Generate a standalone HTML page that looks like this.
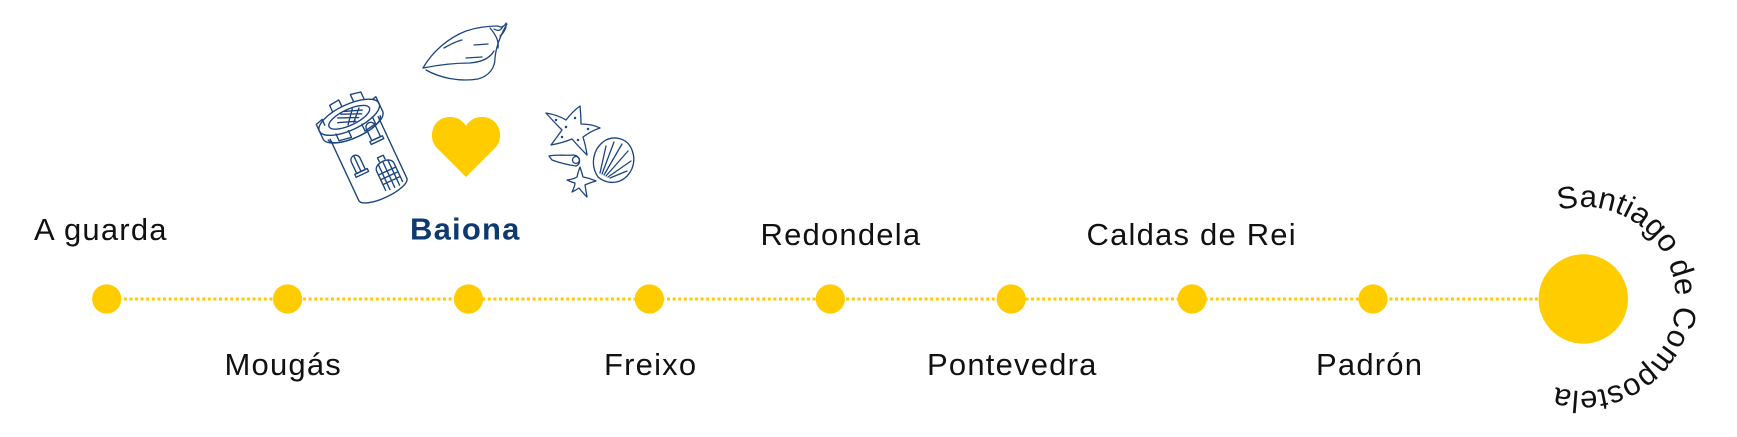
<!DOCTYPE html>
<html>
<head>
<meta charset="utf-8">
<style>
  html, body { margin: 0; padding: 0; background: #ffffff; }
  svg { display: block; }
  .lbl { font-family: "Liberation Sans", sans-serif; font-size: 31px; fill: #111111; letter-spacing: 1.2px; }
  .ill { fill: none; stroke: #1c4580; stroke-width: 1.3; stroke-linecap: round; stroke-linejoin: round; }
</style>
</head>
<body>
<svg width="1737" height="437" viewBox="0 0 1737 437" xmlns="http://www.w3.org/2000/svg">
  <rect width="1737" height="437" fill="#ffffff"/>

  <!-- dotted connector -->
  <line x1="107" y1="299" x2="1583" y2="299" stroke="#FFCC00" stroke-width="3" stroke-dasharray="3 2.6"/>

  <!-- stops -->
  <g fill="#FFCC00">
    <circle cx="106.7" cy="299" r="14.6"/>
    <circle cx="287.6" cy="299" r="14.6"/>
    <circle cx="468.5" cy="299" r="14.6"/>
    <circle cx="649.4" cy="299" r="14.6"/>
    <circle cx="830.3" cy="299" r="14.6"/>
    <circle cx="1011.2" cy="299" r="14.6"/>
    <circle cx="1192.1" cy="299" r="14.6"/>
    <circle cx="1373" cy="299" r="14.6"/>
    <circle cx="1583.3" cy="299" r="44.7"/>
  </g>

  <!-- top labels -->
  <text class="lbl" x="34" y="240">A guarda</text>
  <text x="410" y="239.5" font-family="Liberation Sans, sans-serif" font-size="31" font-weight="bold" fill="#0d3a70" letter-spacing="1.2">Baiona</text>
  <text class="lbl" x="760.5" y="245">Redondela</text>
  <text class="lbl" x="1086.5" y="245">Caldas de Rei</text>

  <!-- bottom labels -->
  <text class="lbl" x="224.5" y="375">Mougás</text>
  <text class="lbl" x="604" y="375">Freixo</text>
  <text class="lbl" x="927" y="375">Pontevedra</text>
  <text class="lbl" x="1316" y="375">Padrón</text>

  <!-- curved destination label -->
  <defs>
    <path id="arc" d="M 1558.9 210.35 A 92 92 0 1 1 1608.1 387.65 A 92 92 0 1 1 1558.9 210.35"/>
  </defs>
  <text font-family="Liberation Sans, sans-serif" font-size="31" fill="#111111">
    <textPath href="#arc" textLength="342" lengthAdjust="spacing">Santiago de Compostela</textPath>
  </text>

  <!-- heart -->
  <path d="M 466 177 L 437 148 C 427 138, 432 117, 450 117 C 458 117, 463 121, 466 126 C 469 121, 474 117, 482 117 C 500 117, 505 138, 495 148 Z" fill="#FFCC00"/>

  <!-- conch shell -->
  <g class="ill" stroke-width="1.6">
    <path d="M 423 68 C 432 52, 448 38, 466 31 C 478 27, 490 26, 498 26"/>
    <path d="M 423 68 C 438 65, 455 63, 470 63 C 482 62, 490 58, 494 51"/>
    <path d="M 426 70 C 440 78, 460 82, 478 79 C 489 76, 495 68, 495 58 C 496 47, 500 36, 507 24"/>
    <path d="M 444 48 C 451 44, 457 41, 462 40"/>
    <path d="M 466 58 L 482 57"/>
    <path d="M 474 45 L 488 44"/>
    <path d="M 490 28 C 496 35, 499 41, 498 48"/>
    <path d="M 494 29 Q 500 33 503 26"/>
    <path d="M 498 26 Q 503 29 506 23"/>
    <path d="M 500 36 Q 504 33 506 27"/>
  </g>

  <!-- tower -->
  <g class="ill" stroke-width="1.1" transform="translate(364 149) rotate(-25) scale(1.06)">
    <path d="M -25 -22 L -25 42 A 25 8 0 0 0 25 42 L 25 -22"/>
    <path d="M -27 -22 A 27 9 0 0 0 27 -22"/>
    <ellipse cx="0" cy="-33" rx="31" ry="12"/>
    <ellipse cx="0" cy="-33" rx="21" ry="7.5"/>
    <path d="M -31 -33 L -31 -25 A 31 12 0 0 0 31 -25 L 31 -33"/>
    <path d="M -31 -33 L -31 -40 L -24 -42 L -24 -36"/>
    <path d="M -12 -44 L -12 -51 L -2 -52 L -2 -45"/>
    <path d="M 10 -45 L 10 -52 L 20 -50 L 20 -43"/>
    <path d="M 27 -39 L 31 -40 L 31 -33"/>
    <path d="M -18 -24 L -18 -17 L -6 -15 L -6 -22"/>
    <path d="M 8 -22 L 8 -15 L 20 -17 L 20 -24"/>
    <path d="M -10 -37 L 8 -29 M -6 -39 L 12 -31 M -2 -40 L 14 -34 M -12 -33 L 4 -27 M -4 -27 L 6 -39 M 2 -27 L 12 -37"/>
    <path d="M -16 18 L -16 6 A 4.5 4.5 0 0 1 -7 6 L -7 18 Z"/>
    <path d="M -18 18 L -5 18 L -5 21 L -18 21 Z"/>
    <path d="M -11.5 2 L -11.5 18"/>
    <path d="M 10 -4 L 10 -16 A 4.5 4.5 0 0 1 19 -16 L 19 -4 Z"/>
    <path d="M 8 -4 L 21 -4 L 21 -1 L 8 -1 Z"/>
    <path d="M 2 44 L 2 24 C 2 16, 20 16, 20 24 L 20 43"/>
    <path d="M 8 17 L 8 13 L 14 13 L 14 17"/>
    <path d="M 2 28 L 20 28 M 2 33 L 20 33 M 2 38 L 20 38 M 6 19 L 6 45 M 11 18 L 11 45 M 16 19 L 16 45"/>
  </g>

  <!-- sea group -->
  <g class="ill" stroke-width="1.5">
    <!-- big starfish -->
    <path d="M 546 113 Q 558 115 566 120 Q 573 111 580 106 Q 581 116 581 124 Q 592 124 600 128 Q 591 131 583 137 Q 586 147 587 155 Q 578 146 572 139 Q 562 143 551 145 Q 557 137 562 130 Q 553 121 546 113 Z"/>
    <circle cx="556" cy="120" r="0.6"/><circle cx="566" cy="127" r="0.6"/><circle cx="575" cy="118" r="0.6"/>
    <circle cx="588" cy="129" r="0.6"/><circle cx="578" cy="140" r="0.6"/><circle cx="562" cy="137" r="0.6"/>
    <!-- scallop -->
    <path d="M 598 177 C 590 165, 593 150, 603 142 C 612 135, 627 137, 632 150 C 637 163, 631 176, 620 181 C 612 184, 604 182, 598 177 Z"/>
    <path d="M 600 173 L 606 146 M 602 174 L 614 142 M 604 175 L 622 144 M 606 176 L 628 151 M 608 177 L 631 161 M 610 178 L 627 171"/>
    <!-- small conch -->
    <path d="M 549 156 C 557 154, 566 156, 573 155 C 580 155, 582 164, 576 166 C 569 165, 560 163, 552 160 Z"/>
    <circle cx="576" cy="160" r="3.5"/>
    <!-- small starfish -->
    <path d="M 567 180 Q 574 179 577 177 Q 578 172 580 167 Q 582 173 583 177 Q 589 178 596 181 Q 589 183 585 185 Q 586 191 587 197 Q 582 192 579 188 Q 576 190 572 192 Q 575 186 575 183 Q 571 182 567 180 Z"/>
  </g>
</svg>
</body>
</html>
